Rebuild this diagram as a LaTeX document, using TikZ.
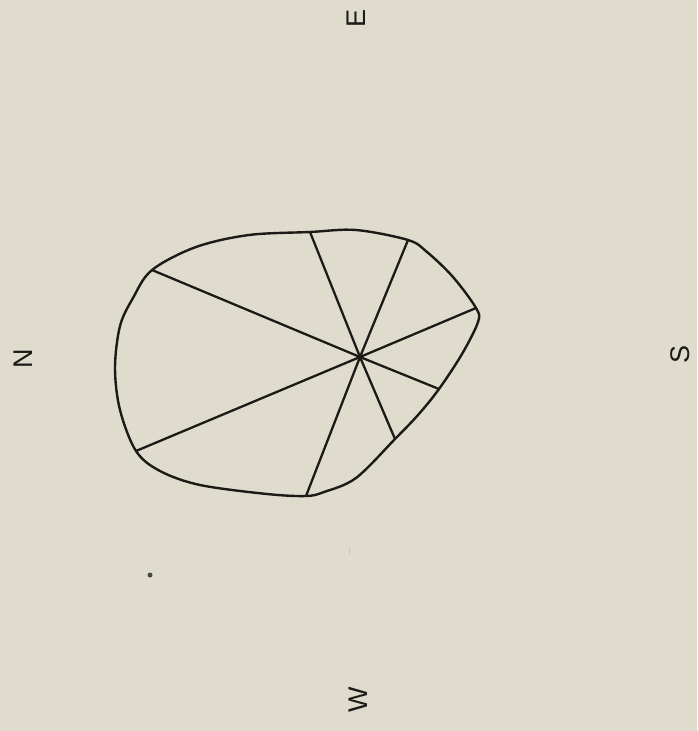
\documentclass[tikz,border=0pt]{standalone}
\usepackage{fontspec}
\setmainfont{Liberation Sans}
\definecolor{paper}{RGB}{224,220,205}
\definecolor{ink}{RGB}{28,26,22}
\definecolor{faint}{RGB}{200,196,186}
\tikzset{
  outline/.style={draw=ink,line width=2.4pt,line join=round},
  ray/.style={draw=ink,line width=2.3pt,line cap=round},
  compass/.style={text=ink,rotate=90,inner sep=0pt,font=\fontsize{27}{30}\selectfont}
}
\begin{document}
\begin{tikzpicture}[x=1pt,y=1pt]
\fill[paper] (0,0) rectangle (697,-731);
\useasboundingbox (0,0) rectangle (697,-731);
% centre and vertices
\coordinate (O) at (360,-357);
\coordinate (A) at (152,-270);
\coordinate (C) at (310,-232);
\coordinate (D) at (408,-240);
\coordinate (E) at (476,-308);
\coordinate (F) at (439,-389);
\coordinate (G) at (395,-439);
\coordinate (H) at (306,-496);
\coordinate (B) at (136,-451);
% outline
\draw[outline] plot[smooth cycle,tension=0.55] coordinates {
 (A) (196,-247) (249,-235) (C) (356,-230) (D) (427,-252) (453,-277) (E)
 (478,-322) (462,-354) (F) (418,-415) (G) (356,-478) (324,-492) (H)
 (267,-494) (200,-485) (160,-471) (B) (120,-410) (115,-368) (120,-326) (133,-298)};
% rays
\foreach \v in {A,C,D,E,F,G,H,B} \draw[ray] (O) -- (\v);
\fill[ink] (O) circle (2.8pt);
% compass letters
\node[compass] (n) at (23,-359) {N};
\node[compass] (e) at (356,-18) {E};
\node[compass] (s) at (680,-354) {S};
\node[compass] (w) at (358,-700) {W};
% marks
\fill[ink!80] (150,-575) circle (2.5pt);
\draw[faint,line width=1pt] (349,-548) -- (349,-554);
\end{tikzpicture}
\end{document}
